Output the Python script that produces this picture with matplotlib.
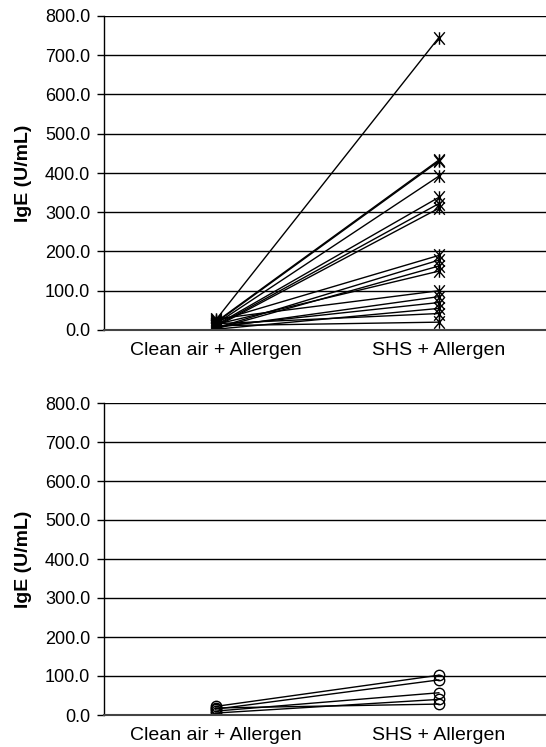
import matplotlib.pyplot as plt
import numpy as np
from matplotlib.path import Path

plt.rcParams['font.family'] = ['Liberation Sans', 'DejaVu Sans']

categories = ['Clean air + Allergen', 'SHS + Allergen']

# Top panel: SHS-sensitive group (star markers)
top_clean = [25, 20, 18, 15, 12, 10, 8, 22, 5, 3, 14, 28, 6, 9, 2, 16, 11]
top_shs = [745, 433, 430, 392, 338, 322, 310, 190, 178, 163, 150, 100, 85, 70, 55, 42, 20]

# Bottom panel (open circle markers)
bot_clean = [22, 15, 10, 5, 18]
bot_shs = [102, 90, 57, 40, 28]

yticks = np.arange(0, 801, 100)

# Excel-like star marker: X plus vertical bar
star = Path([(-0.85, -1), (0.85, 1), (-0.85, 1), (0.85, -1), (0, -1), (0, 1)],
            [Path.MOVETO, Path.LINETO, Path.MOVETO, Path.LINETO, Path.MOVETO, Path.LINETO])

fig = plt.figure(figsize=(5.46, 7.47), dpi=100)
ax_top = fig.add_axes([104 / 546, 1 - 330 / 747, 1 - 104 / 546, 314 / 747])
ax_bot = fig.add_axes([104 / 546, 1 - 715 / 747, 1 - 104 / 546, 312 / 747])


def draw_panel(ax, clean, shs, marker, msize):
    x = np.arange(len(categories))
    for c, s in zip(clean, shs):
        ax.plot(x, [c, s], color='black', lw=1, marker=marker, markersize=msize,
                markerfacecolor='none', markeredgecolor='black', markeredgewidth=1)
    ax.set_xlim(-0.5, 1.48)
    ax.set_ylim(0, 800)
    ax.set_yticks(yticks)
    ax.set_yticklabels([f'{v:.1f}' for v in yticks], fontsize=13)
    ax.set_xticks(x)
    ax.set_xticklabels(categories, fontsize=14)
    ax.tick_params(axis='x', length=0, pad=9)
    ax.tick_params(axis='y', length=5, width=1, direction='out', pad=5)
    ax.grid(True, axis='y', color='black', lw=1)
    ax.set_axisbelow(True)
    for side in ['top', 'right']:
        ax.spines[side].set_visible(False)
    ax.spines['left'].set_linewidth(1)
    ax.spines['bottom'].set_color('#444444')
    ax.spines['bottom'].set_linewidth(1.5)
    ax.set_ylabel('IgE (U/mL)', fontsize=14, fontweight='bold', labelpad=9)


draw_panel(ax_top, top_clean, top_shs, star, 9)
draw_panel(ax_bot, bot_clean, bot_shs, 'o', 7.5)

plt.savefig('out.png', dpi=100)
